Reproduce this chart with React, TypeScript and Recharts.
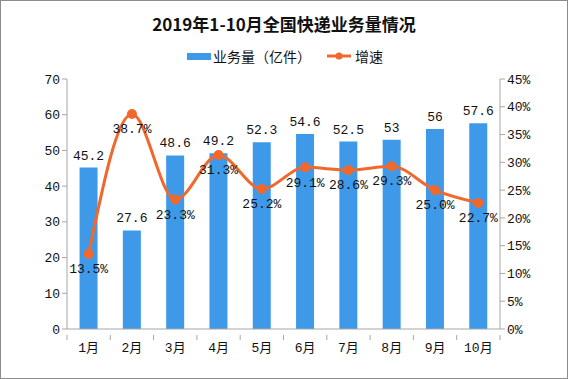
import React from "react";
import {
  Bar,
  ComposedChart,
  LabelList,
  Line,
  XAxis,
  YAxis,
} from "recharts";

const months = ["1月", "2月", "3月", "4月", "5月", "6月", "7月", "8月", "9月", "10月"];
const volume = [45.2, 27.6, 48.6, 49.2, 52.3, 54.6, 52.5, 53, 56, 57.6];
const growth = [13.5, 38.7, 23.3, 31.3, 25.2, 29.1, 28.6, 29.3, 25.0, 22.7];
const leftTicks = [0, 10, 20, 30, 40, 50, 60, 70];
const rightTicks = [0, 5, 10, 15, 20, 25, 30, 35, 40, 45];

const BAR_COLOR = "#3e9ae9";
const LINE_COLOR = "#f0682b";
const AXIS_COLOR = "#a6a6a6";
const LABEL_FONT = "'Liberation Mono', 'Noto Sans CJK SC', monospace";

const data = months.map((m, i) => ({ month: m, volume: volume[i], growth: growth[i] }));

function MonthTick(props: any) {
  const { x, y, payload, index, visibleTicksCount } = props;
  const bw = 433 / months.length;
  return (
    <g>
      <line x1={x - bw / 2} y1={y - 2} x2={x - bw / 2} y2={y + 3} stroke={AXIS_COLOR} />
      {index === visibleTicksCount - 1 ? (
        <line x1={x + bw / 2} y1={y - 2} x2={x + bw / 2} y2={y + 3} stroke={AXIS_COLOR} />
      ) : null}
      <text
        x={x}
        y={y + 15}
        textAnchor="middle"
        fontSize={13}
        fontFamily={LABEL_FONT}
        fill="#111"
      >
        {payload.value}
      </text>
    </g>
  );
}

function TopLegend() {
  return (
    <div
      style={{
        position: "absolute",
        top: 45,
        left: 0,
        width: 568,
        display: "flex",
        justifyContent: "center",
        alignItems: "center",
        fontFamily: "'Noto Sans CJK SC', sans-serif",
        fontSize: 14,
        color: "#111",
      }}
    >
      <span style={{ display: "inline-block", width: 24, height: 7, background: BAR_COLOR, marginRight: 2 }} />
      <span>业务量（亿件）</span>
      <svg width={24} height={10} style={{ marginLeft: 16, marginRight: 4 }}>
        <line x1={0} y1={5} x2={24} y2={5} stroke={LINE_COLOR} strokeWidth={3} />
        <circle cx={12} cy={5} r={3.5} fill={LINE_COLOR} />
      </svg>
      <span>增速</span>
    </div>
  );
}

export default function App(): React.ReactElement {
  return (
    <div
      style={{
        position: "absolute",
        left: 0,
        top: 0,
        width: 568,
        height: 379,
        boxSizing: "border-box",
        border: "1px solid #8c8c8c",
        background: "#fff",
        overflow: "hidden",
      }}
    >
      <div
        style={{
          position: "absolute",
          top: 10,
          width: "100%",
          textAlign: "center",
          fontFamily: "'Noto Sans CJK SC', serif",
          fontWeight: 700,
          fontSize: 17,
          color: "#111",
        }}
      >
        2019年1-10月全国快递业务量情况
      </div>
      <TopLegend />
      <div style={{ position: "absolute", left: -1, top: -1 }}>
        <ComposedChart
          width={568}
          height={379}
          data={data}
          margin={{ top: 79, right: 0, bottom: 20, left: 7 }}
          barCategoryGap="29%"
        >
          <XAxis
            dataKey="month"
            height={30}
            axisLine={{ stroke: AXIS_COLOR }}
            tickLine={false}
            tick={<MonthTick />}
            interval={0}
          />
          <YAxis
            yAxisId="left"
            width={60}
            domain={[0, 70]}
            ticks={leftTicks}
            axisLine={{ stroke: AXIS_COLOR }}
            tickLine={{ stroke: AXIS_COLOR }}
            tickSize={5}
            tick={{ fontSize: 13, fontFamily: LABEL_FONT, fill: "#111" }}
          />
          <YAxis
            yAxisId="right"
            orientation="right"
            width={68}
            domain={[0, 45]}
            ticks={rightTicks}
            tickFormatter={(v: number) => `${v}%`}
            axisLine={{ stroke: AXIS_COLOR }}
            tickLine={{ stroke: AXIS_COLOR }}
            tickSize={5}
            tick={{ fontSize: 13, fontFamily: LABEL_FONT, fill: "#111" }}
          />
          <Bar yAxisId="left" dataKey="volume" fill={BAR_COLOR} isAnimationActive={false}>
            <LabelList
              dataKey="volume"
              position="top"
              offset={8}
              style={{ fontSize: 13, fontFamily: LABEL_FONT, fill: "#111" }}
            />
          </Bar>
          <Line
            yAxisId="right"
            dataKey="growth"
            type="monotone"
            stroke={LINE_COLOR}
            strokeWidth={3}
            dot={{ r: 3.5, fill: LINE_COLOR, stroke: LINE_COLOR }}
            activeDot={false}
            isAnimationActive={false}
          >
            <LabelList
              dataKey="growth"
              position="bottom"
              offset={10}
              formatter={(v: any) => `${Number(v).toFixed(1)}%`}
              style={{ fontSize: 13, fontFamily: LABEL_FONT, fill: "#111" }}
            />
          </Line>
        </ComposedChart>
      </div>
    </div>
  );
}
